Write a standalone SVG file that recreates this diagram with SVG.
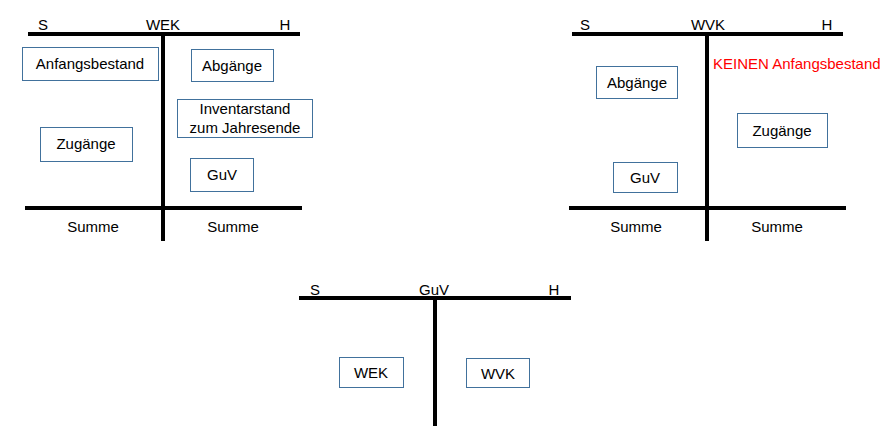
<svg xmlns="http://www.w3.org/2000/svg" width="891" height="439" viewBox="0 0 891 439">
<style>
text{font-family:"Liberation Sans",Arial,sans-serif;font-size:15px;fill:#000}
.c{text-anchor:middle}
.box{fill:#fff;stroke:#41719C;stroke-width:1}
.ln{stroke:#000;stroke-width:4;fill:none}
.red{fill:#FF0000}
</style>
<rect width="891" height="439" fill="#fff"/>
<g id="connectors">
<line class="ln" x1="28" y1="34" x2="300" y2="34"/>
<line class="ln" x1="163" y1="34" x2="163" y2="241"/>
<line class="ln" x1="25" y1="208" x2="302" y2="208"/>
<line class="ln" x1="572" y1="34" x2="843" y2="34"/>
<line class="ln" x1="707" y1="34" x2="707" y2="241"/>
<line class="ln" x1="569" y1="208" x2="846" y2="208"/>
<line class="ln" x1="299" y1="298" x2="571" y2="298"/>
<line class="ln" x1="435" y1="298" x2="435" y2="426"/>
</g>
<g id="wek-account">
<text x="43" y="30" class="c">S</text>
<text x="163" y="30" class="c">WEK</text>
<text x="285" y="30" class="c">H</text>
<text x="93" y="232" class="c">Summe</text>
<text x="233" y="232" class="c">Summe</text>
</g>
<g id="wek-anfangsbestand"><rect class="box" x="22.5" y="47.5" width="136" height="33"/><text x="90" y="69" class="c">Anfangsbestand</text></g>
<g id="wek-abgaenge"><rect class="box" x="191.5" y="49.5" width="82" height="32"/><text x="232" y="71" class="c">Abgänge</text></g>
<g id="wek-inventarstand"><rect class="box" x="177.5" y="99.5" width="135" height="38"/><text x="245" y="114" class="c">Inventarstand</text><text x="245" y="133" class="c">zum Jahresende</text></g>
<g id="wek-zugaenge"><rect class="box" x="40.5" y="127.5" width="92" height="34"/><text x="86" y="149" class="c">Zugänge</text></g>
<g id="wek-guv"><rect class="box" x="190.5" y="158.5" width="63" height="33"/><text x="222" y="180" class="c">GuV</text></g>
<g id="wvk-account">
<text x="585" y="30" class="c">S</text>
<text x="708" y="30" class="c">WVK</text>
<text x="827" y="30" class="c">H</text>
<text x="636" y="232" class="c">Summe</text>
<text x="777" y="232" class="c">Summe</text>
<text x="713" y="69" class="red">KEINEN Anfangsbestand</text>
</g>
<g id="wvk-abgaenge"><rect class="box" x="596.5" y="66.5" width="81" height="32"/><text x="637" y="88" class="c">Abgänge</text></g>
<g id="wvk-zugaenge"><rect class="box" x="737.5" y="113.5" width="90" height="34"/><text x="782" y="136" class="c">Zugänge</text></g>
<g id="wvk-guv"><rect class="box" x="613.5" y="162.5" width="64" height="30"/><text x="645" y="183" class="c">GuV</text></g>
<g id="guv-account">
<text x="315" y="295" class="c">S</text>
<text x="434" y="295" class="c">GuV</text>
<text x="554" y="295" class="c">H</text>
</g>
<g id="guv-wek"><rect class="box" x="339.5" y="357.5" width="64" height="30"/><text x="371" y="378" class="c">WEK</text></g>
<g id="guv-wvk"><rect class="box" x="466.5" y="358.5" width="63" height="29"/><text x="498" y="379" class="c">WVK</text></g>
</svg>
